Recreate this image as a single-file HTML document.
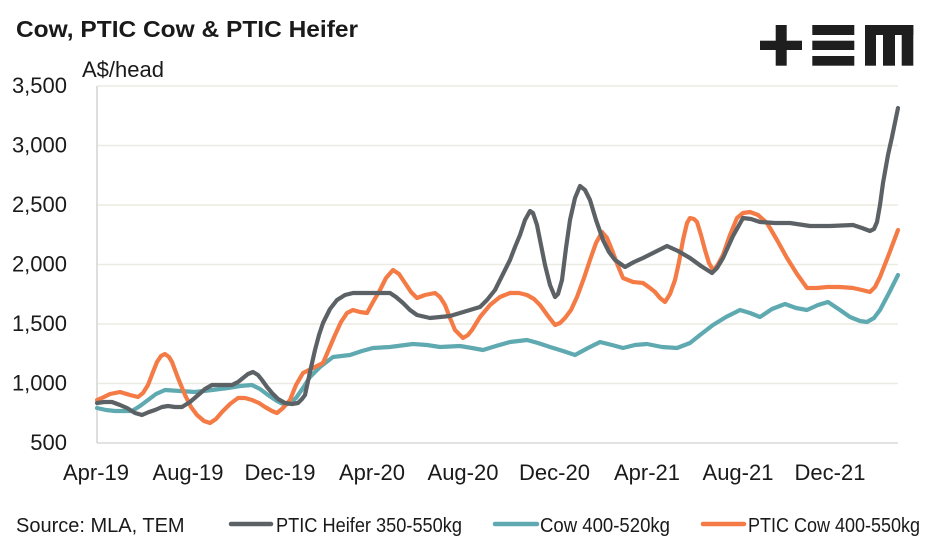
<!DOCTYPE html>
<html>
<head>
<meta charset="utf-8">
<style>
  html,body{margin:0;padding:0;background:#ffffff;}
  body{width:947px;height:541px;overflow:hidden;}
  svg{display:block;}
  text{font-family:"Liberation Sans", Arial, sans-serif;fill:#1a1a1a;}
</style>
</head>
<body>
<svg width="947" height="541" viewBox="0 0 947 541" xmlns="http://www.w3.org/2000/svg">
  <rect x="0" y="0" width="947" height="541" fill="#ffffff"/>

  <!-- Title -->
  <text x="16" y="37" font-size="23" font-weight="bold" textLength="342" lengthAdjust="spacingAndGlyphs">Cow, PTIC Cow &amp; PTIC Heifer</text>

  <!-- Logo -->
  <g fill="#1e1e1e">
    <rect x="760" y="40.7" width="42" height="9.3"/>
    <rect x="775.7" y="25" width="11" height="40.7"/>
    <rect x="812.3" y="25" width="42" height="10"/>
    <rect x="812.3" y="40.7" width="42" height="9.3"/>
    <rect x="812.3" y="56" width="42" height="9.7"/>
    <rect x="865" y="25" width="48.3" height="10"/>
    <rect x="865" y="25" width="11" height="40.7"/>
    <rect x="883" y="25" width="12" height="40.7"/>
    <rect x="901.7" y="25" width="11.6" height="40.7"/>
  </g>

  <!-- Unit label -->
  <text x="82" y="77" font-size="22">A$/head</text>

  <!-- Gridlines -->
  <g stroke="#ecebe2" stroke-width="1.5">
    <line x1="97" y1="86" x2="898" y2="86"/>
    <line x1="97" y1="145.5" x2="898" y2="145.5"/>
    <line x1="97" y1="205" x2="898" y2="205"/>
    <line x1="97" y1="264.5" x2="898" y2="264.5"/>
    <line x1="97" y1="324" x2="898" y2="324"/>
    <line x1="97" y1="383.5" x2="898" y2="383.5"/>
  </g>
  <!-- Axes -->
  <line x1="97" y1="86" x2="97" y2="443" stroke="#d4d4d4" stroke-width="1.5"/>
  <line x1="97" y1="443" x2="898" y2="443" stroke="#d9d9d9" stroke-width="1.5"/>

  <!-- Y tick labels -->
  <g font-size="22" text-anchor="end">
    <text x="67" y="93">3,500</text>
    <text x="67" y="152.5">3,000</text>
    <text x="67" y="212">2,500</text>
    <text x="67" y="271.5">2,000</text>
    <text x="67" y="331">1,500</text>
    <text x="67" y="390.5">1,000</text>
    <text x="67" y="450">500</text>
  </g>

  <!-- X tick labels -->
  <g font-size="22" text-anchor="middle">
    <text x="96" y="480">Apr-19</text>
    <text x="188" y="480">Aug-19</text>
    <text x="280" y="480">Dec-19</text>
    <text x="372" y="480">Apr-20</text>
    <text x="463" y="480">Aug-20</text>
    <text x="554.5" y="480">Dec-20</text>
    <text x="647" y="480">Apr-21</text>
    <text x="738" y="480">Aug-21</text>
    <text x="830" y="480">Dec-21</text>
  </g>

  <!-- Series -->
  <g fill="none" stroke-width="4.2" stroke-linejoin="round" stroke-linecap="round">
    <!-- Cow 400-520kg (teal) -->
    <polyline stroke="#5fa9b1" points="97,408 106,410 115,411 132,411 140,406 148,400 156,394 165,390 180,391 195,392 212,390 228,388 240,386 252,385 260,389 268,395 277,401 285,405 290,403 296,398 303,388 310,377 320,367 333,357 350,355 362,351 373,348 390,347 413,344 427,345 440,347 460,346 472,348 483,350 496,346 510,342 527,340 538,343 550,347 563,351 575,355 588,348 600,342 612,345 623,348 635,345 647,344 662,347 677,348 690,343 700,335 713,325 726,317 740,310 750,313 760,317 772,309 785,304 796,308 807,310 818,305 828,302 840,310 850,317 860,321 867,322 874,318 880,310 889,293 898,275"/>
    <!-- PTIC Cow 400-550kg (orange) -->
    <polyline stroke="#f47b45" points="97,400 104,397 110,394 120,392 130,395 138,397 143,393 148,385 153,372 157,362 161,356 165,354 169,357 172,362 178,378 185,395 191,407 197,415 204,421 210,423 216,419 222,412 230,404 238,398 245,398 252,400 259,403 265,407 272,411 277,413 283,408 290,400 296,385 303,373 313,368 323,363 329,349 335,335 341,322 347,313 353,310 360,312 367,313 373,302 380,290 386,278 393,270 399,274 405,283 411,292 417,298 425,295 435,293 440,297 445,305 450,318 455,330 463,338 468,335 472,330 480,317 490,305 500,297 510,293 519,293 527,295 534,299 540,305 548,316 555,325 560,323 565,318 571,310 577,297 584,278 590,260 596,243 602,232 607,238 612,250 618,266 623,278 633,282 643,283 650,288 655,292 660,298 665,302 670,294 675,280 679,262 683,240 687,223 690,218 694,219 697,222 701,235 705,250 709,263 713,270 717,266 723,255 730,235 737,218 743,213 750,212 758,215 767,223 777,240 787,258 797,274 807,288 817,288 827,287 840,287 853,288 862,290 870,292 875,287 880,277 889,254 898,230"/>
    <!-- PTIC Heifer 350-550kg (gray) -->
    <polyline stroke="#5b6164" points="97,403 104,402 112,402 120,405 127,408 135,413 142,415 149,412 155,410 162,407 168,406 175,407 182,407 190,402 197,396 205,389 212,385 222,385 232,385 238,382 243,378 248,374 253,372 258,375 262,380 267,387 272,393 278,399 285,403 292,404 298,403 302,399 305,395 310,372 315,350 319,335 323,323 330,309 337,300 345,295 353,293 370,293 380,293 390,293 396,297 403,303 410,310 417,315 430,318 440,317 450,316 460,313 470,310 480,307 487,300 495,290 502,276 510,260 515,247 520,235 525,220 530,211 533,213 537,225 541,245 545,265 550,285 555,297 558,294 562,280 566,248 570,220 575,198 580,186 585,190 590,200 596,220 603,240 609,252 615,260 625,267 634,262 643,258 655,252 667,246 678,251 690,258 701,266 712,273 717,268 723,258 733,236 743,218 751,219 760,222 775,223 790,223 810,226 830,226 853,225 862,228 870,231 874,229 877,222 880,205 883,183 888,155 892,137 898,108"/>
  </g>

  <!-- Legend / source -->
  <text x="16" y="532" font-size="20">Source: MLA, TEM</text>
  <g stroke-width="4.5" stroke-linecap="round">
    <line x1="231" y1="524" x2="271" y2="524" stroke="#5b6164"/>
    <line x1="495" y1="524" x2="537" y2="524" stroke="#5fa9b1"/>
    <line x1="703" y1="524" x2="744" y2="524" stroke="#f47b45"/>
  </g>
  <g font-size="20">
    <text x="276" y="532" textLength="186" lengthAdjust="spacingAndGlyphs">PTIC Heifer 350-550kg</text>
    <text x="540" y="532" textLength="130" lengthAdjust="spacingAndGlyphs">Cow 400-520kg</text>
    <text x="748" y="532" textLength="172" lengthAdjust="spacingAndGlyphs">PTIC Cow 400-550kg</text>
  </g>
</svg>
</body>
</html>
